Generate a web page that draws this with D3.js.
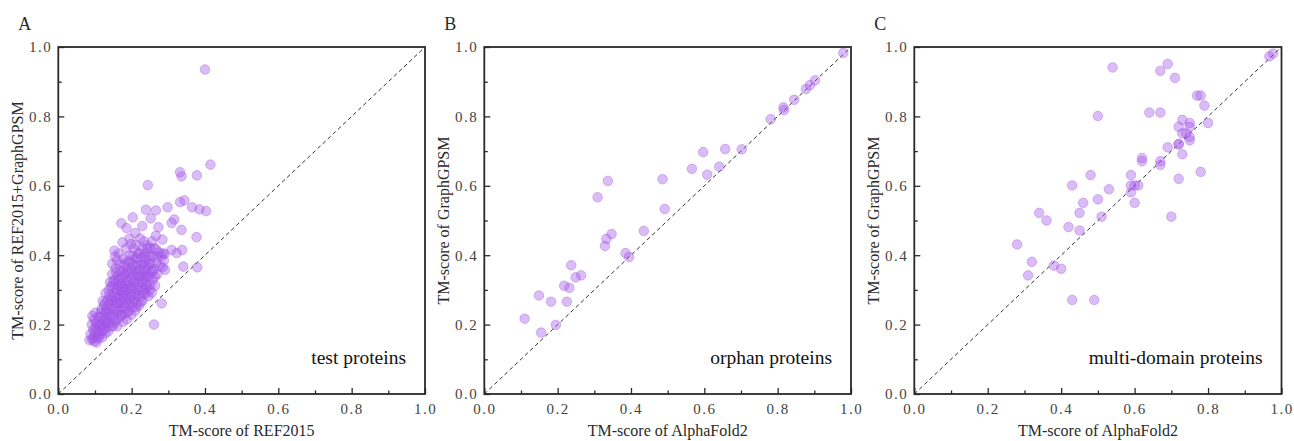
<!DOCTYPE html>
<html>
<head>
<meta charset="utf-8">
<script src="https://cdn.jsdelivr.net/npm/d3@7"></script>
<style>
  body { margin: 0; background: #fff; }
  svg { display: block; }
</style>
</head>
<body>
<div id="chart"></div>
<script>
// panel A: REF2015 vs REF2015+GraphGPSM (test proteins)
const testCluster = [
    [0.085,0.155],[0.092,0.158],[0.098,0.152],[0.088,0.172],[0.095,0.185],[0.091,0.200],[0.097,0.215],[0.093,0.225],
    [0.100,0.168],[0.104,0.148],[0.102,0.192],[0.106,0.178],[0.101,0.234],[0.108,0.205],[0.110,0.160],
    [0.112,0.188],[0.115,0.172],[0.114,0.222],[0.118,0.245],[0.117,0.200],[0.120,0.163],[0.122,0.212],[0.121,0.268],
    [0.124,0.185],[0.126,0.232],[0.125,0.255],[0.128,0.175],[0.129,0.290],[0.130,0.205],[0.132,0.245],[0.133,0.222],
    [0.134,0.270],[0.131,0.192],[0.136,0.180],
    [0.138,0.300],[0.139,0.235],[0.140,0.208],[0.142,0.258],[0.141,0.322],[0.144,0.280],[0.145,0.195],[0.146,0.240],
    [0.147,0.345],[0.148,0.310],[0.150,0.222],[0.151,0.268],[0.152,0.292],[0.153,0.205],[0.154,0.330],[0.155,0.250],
    [0.156,0.362],[0.157,0.318],[0.158,0.232],[0.159,0.280],[0.160,0.300],[0.161,0.195],[0.162,0.340],[0.163,0.262],
    [0.165,0.218],[0.166,0.285],[0.167,0.312],[0.168,0.372],[0.169,0.245],[0.170,0.335],[0.171,0.265],[0.172,0.295],
    [0.173,0.228],[0.174,0.355],[0.175,0.320],[0.176,0.208],[0.177,0.278],[0.178,0.390],[0.179,0.250],[0.180,0.305],
    [0.181,0.345],[0.182,0.232],[0.183,0.288],[0.184,0.368],[0.185,0.262],[0.186,0.325],[0.187,0.215],[0.188,0.300],
    [0.189,0.382],[0.190,0.272],
    [0.191,0.348],[0.192,0.240],[0.193,0.315],[0.194,0.292],[0.195,0.400],[0.196,0.258],[0.197,0.335],[0.198,0.362],
    [0.199,0.228],[0.200,0.310],[0.201,0.282],[0.202,0.375],[0.203,0.250],[0.204,0.342],[0.205,0.420],[0.206,0.298],
    [0.207,0.268],[0.208,0.388],[0.209,0.325],[0.210,0.240],[0.211,0.355],[0.212,0.285],[0.213,0.430],[0.214,0.310],
    [0.215,0.262],[0.216,0.372],[0.217,0.340],[0.218,0.298],[0.219,0.405],[0.220,0.255],
    [0.222,0.322],[0.223,0.448],[0.224,0.360],[0.225,0.280],[0.226,0.392],[0.227,0.342],[0.228,0.305],[0.229,0.420],
    [0.230,0.270],[0.232,0.375],[0.233,0.335],[0.234,0.440],[0.235,0.298],[0.236,0.355],[0.237,0.405],[0.238,0.318],
    [0.239,0.290],[0.240,0.385],[0.241,0.345],[0.242,0.428],[0.243,0.312],[0.245,0.365],[0.246,0.282],[0.247,0.398],
    [0.248,0.340],[0.250,0.420],[0.251,0.315],[0.252,0.375],[0.254,0.352],[0.255,0.292],[0.256,0.440],[0.258,0.330],
    [0.260,0.395],[0.262,0.360],[0.264,0.312],[0.266,0.418],[0.268,0.378],[0.270,0.345],[0.272,0.395],[0.275,0.408],
    [0.278,0.368],[0.282,0.398],[0.285,0.405],[0.288,0.385],
    [0.096,0.162],[0.099,0.178],[0.103,0.205],[0.107,0.165],[0.109,0.222],[0.111,0.175],[0.113,0.198],[0.116,0.235],
    [0.119,0.182],[0.123,0.198],[0.127,0.215],[0.127,0.262],[0.131,0.235],[0.135,0.205],[0.137,0.255],[0.139,0.285],
    [0.143,0.225],[0.144,0.310],[0.146,0.270],[0.149,0.195],[0.150,0.325],[0.152,0.245],[0.154,0.280],[0.157,0.212],
    [0.158,0.350],[0.160,0.262],[0.162,0.305],[0.164,0.238],[0.166,0.328],[0.168,0.275],[0.169,0.355],[0.171,0.225],
    [0.173,0.310],[0.175,0.262],[0.177,0.340],[0.178,0.295],[0.180,0.375],[0.182,0.248],[0.184,0.318],[0.186,0.282],
    [0.188,0.352],[0.190,0.235],[0.192,0.325],[0.194,0.380],[0.196,0.278],[0.198,0.305],[0.200,0.352],[0.202,0.265],
    [0.204,0.398],[0.206,0.322],[0.208,0.288],[0.210,0.368],[0.212,0.250],[0.214,0.392],[0.216,0.318],[0.218,0.352],
    [0.220,0.285],[0.222,0.405],[0.224,0.338],[0.226,0.265],[0.228,0.372],[0.230,0.322],[0.232,0.290],[0.234,0.395],
    [0.236,0.338],[0.238,0.370],[0.240,0.305],[0.243,0.420],[0.245,0.338],[0.248,0.375],[0.250,0.300],[0.253,0.398],
    [0.257,0.355],[0.261,0.420],[0.263,0.338],
    [0.147,0.375],[0.160,0.385],[0.165,0.405],[0.185,0.420],[0.198,0.432]
];
const testOutliers = [
    [0.400,0.935],[0.415,0.661],[0.332,0.639],[0.336,0.627],[0.378,0.630],[0.244,0.602],[0.332,0.553],[0.344,0.558],
    [0.365,0.538],[0.385,0.532],[0.403,0.527],[0.298,0.538],[0.239,0.531],[0.266,0.529],[0.316,0.503],[0.309,0.493],
    [0.252,0.506],[0.203,0.509],[0.172,0.492],[0.186,0.478],[0.273,0.481],[0.336,0.473],[0.377,0.452],[0.210,0.464],
    [0.229,0.484],[0.284,0.445],[0.266,0.456],[0.309,0.415],[0.323,0.406],[0.338,0.415],[0.285,0.365],[0.291,0.358],
    [0.341,0.367],[0.379,0.365],[0.282,0.261],[0.261,0.200],[0.175,0.437],[0.153,0.413],[0.155,0.396],[0.194,0.448],
    [0.290,0.404]
];

// panel B: AlphaFold2 vs GraphGPSM (orphan proteins)
const orphanPoints = [
    [0.110,0.217],[0.155,0.177],[0.149,0.284],[0.182,0.266],[0.195,0.199],[0.218,0.312],[0.232,0.306],[0.225,0.266],
    [0.237,0.371],[0.249,0.336],[0.264,0.342],[0.309,0.567],[0.337,0.614],[0.329,0.427],[0.333,0.447],[0.347,0.461],
    [0.385,0.406],[0.395,0.395],[0.435,0.470],[0.486,0.619],[0.492,0.533],[0.566,0.649],[0.597,0.697],[0.608,0.632],
    [0.641,0.655],[0.657,0.706],[0.702,0.705],[0.781,0.792],[0.816,0.826],[0.817,0.818],[0.845,0.848],[0.877,0.879],
    [0.888,0.890],[0.902,0.904],[0.979,0.983]
];

// panel C: AlphaFold2 vs GraphGPSM (multi-domain proteins)
const multiPoints = [
    [0.280,0.431],[0.320,0.381],[0.310,0.342],[0.340,0.522],[0.360,0.500],[0.380,0.370],[0.400,0.361],[0.430,0.601],
    [0.430,0.271],[0.420,0.481],[0.450,0.522],[0.450,0.471],[0.460,0.551],[0.480,0.631],[0.490,0.271],[0.500,0.561],
    [0.500,0.801],[0.510,0.511],[0.530,0.590],[0.540,0.941],[0.590,0.631],[0.590,0.581],[0.590,0.601],[0.600,0.551],
    [0.600,0.601],[0.610,0.601],[0.620,0.671],[0.620,0.680],[0.640,0.811],[0.670,0.811],[0.670,0.931],[0.670,0.660],
    [0.670,0.671],[0.690,0.711],[0.690,0.951],[0.710,0.911],[0.700,0.511],[0.720,0.620],[0.720,0.721],[0.720,0.719],
    [0.720,0.770],[0.730,0.691],[0.730,0.790],[0.730,0.751],[0.740,0.751],[0.750,0.781],[0.750,0.770],[0.750,0.741],
    [0.750,0.731],[0.770,0.860],[0.780,0.860],[0.780,0.640],[0.790,0.831],[0.800,0.781],[0.967,0.973],[0.977,0.981]
];

const majorTicks = [0, 0.2, 0.4, 0.6, 0.8, 1.0];
const minorTicks = [0.1, 0.3, 0.5, 0.7, 0.9];

const panels = [
    { letter: "A", left: 58.3, right: 425, data: testCluster.concat(testOutliers),
      xTitle: "TM-score of REF2015", yTitle: "TM-score of REF2015+GraphGPSM", note: "test proteins" },
    { letter: "B", left: 484.3, right: 851, data: orphanPoints,
      xTitle: "TM-score of AlphaFold2", yTitle: "TM-score of GraphGPSM", note: "orphan proteins" },
    { letter: "C", left: 914.3, right: 1281.5, data: multiPoints,
      xTitle: "TM-score of AlphaFold2", yTitle: "TM-score of GraphGPSM", note: "multi-domain proteins" }
];

const width = 1294, height = 441;
const plotTop = 47, plotBottom = 394;
const serif = "'Liberation Serif', 'Times New Roman', serif";
const ink = "#2a2a2a";

const svg = d3.select("#chart").append("svg")
    .attr("width", width)
    .attr("height", height)
    .style("font-family", serif);

function drawPanel(p) {
    const x = d3.scaleLinear().domain([0, 1]).range([p.left, p.right]);
    const y = d3.scaleLinear().domain([0, 1]).range([plotBottom, plotTop]);
    const g = svg.append("g");

    // diagonal y = x
    g.append("line")
        .attr("x1", x(0)).attr("y1", y(0))
        .attr("x2", x(1)).attr("y2", y(1))
        .attr("stroke", "#333")
        .attr("stroke-width", 1)
        .attr("stroke-dasharray", "4,3");

    g.append("g").selectAll("circle")
        .data(p.data)
        .join("circle")
        .attr("cx", d => x(d[0]))
        .attr("cy", d => y(d[1]))
        .attr("r", 4.8)
        .attr("fill", "#a45be8")
        .attr("fill-opacity", 0.4)
        .attr("stroke", "#9a4fe2")
        .attr("stroke-opacity", 0.45)
        .attr("stroke-width", 0.8);

    // major and minor ticks, pointing into the plot
    const xAxis = g.append("g")
        .attr("transform", `translate(0,${plotBottom})`)
        .call(d3.axisBottom(x).tickValues(majorTicks).tickSizeInner(-6).tickSizeOuter(0)
            .tickPadding(9).tickFormat(d3.format(".1f")));
    g.append("g")
        .attr("transform", `translate(0,${plotBottom})`)
        .call(d3.axisBottom(x).tickValues(minorTicks).tickSizeInner(-3.5).tickSizeOuter(0).tickFormat(""));
    const yAxis = g.append("g")
        .attr("transform", `translate(${p.left},0)`)
        .call(d3.axisLeft(y).tickValues(majorTicks).tickSizeInner(-6).tickSizeOuter(0)
            .tickPadding(6).tickFormat(d3.format(".1f")));
    g.append("g")
        .attr("transform", `translate(${p.left},0)`)
        .call(d3.axisLeft(y).tickValues(minorTicks).tickSizeInner(-3.5).tickSizeOuter(0).tickFormat(""));

    g.selectAll(".domain").remove();
    g.selectAll(".tick line").attr("stroke", ink).attr("stroke-width", 1.3);
    [xAxis, yAxis].forEach(a => a.selectAll("text")
        .attr("fill", "#444")
        .style("font-family", serif)
        .style("font-size", "15px")
        .style("letter-spacing", "1.5px"));

    // frame
    g.append("rect")
        .attr("x", p.left).attr("y", plotTop)
        .attr("width", p.right - p.left).attr("height", plotBottom - plotTop)
        .attr("fill", "none")
        .attr("stroke", ink)
        .attr("stroke-width", 1.8);

    g.append("text")
        .attr("x", p.left - 40).attr("y", 30)
        .attr("fill", ink)
        .style("font-size", "18px")
        .text(p.letter);

    g.append("text")
        .attr("x", (p.left + p.right) / 2).attr("y", plotBottom + 42)
        .attr("text-anchor", "middle")
        .attr("fill", ink)
        .style("font-size", "16px")
        .text(p.xTitle);

    g.append("text")
        .attr("transform", `translate(${p.left - 35},${(plotTop + plotBottom) / 2}) rotate(-90)`)
        .attr("text-anchor", "middle")
        .attr("fill", ink)
        .style("font-size", "16px")
        .text(p.yTitle);

    g.append("text")
        .attr("x", p.right - 19).attr("y", plotBottom - 30)
        .attr("text-anchor", "end")
        .attr("fill", "#111")
        .style("font-size", "19.5px")
        .text(p.note);
}

panels.forEach(drawPanel);
</script>
</body>
</html>
